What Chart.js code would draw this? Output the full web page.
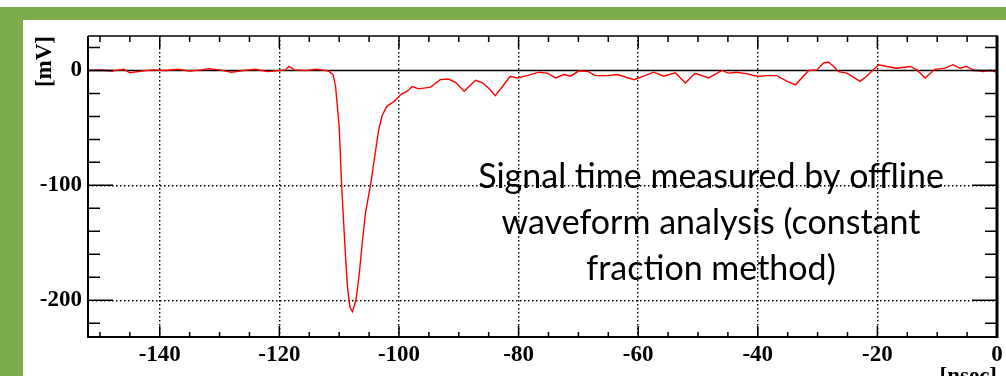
<!DOCTYPE html>
<html>
<head>
<meta charset="utf-8">
<script src="https://cdn.jsdelivr.net/npm/chart.js@4"></script>
<style>
  html, body { margin:0; padding:0; width:1006px; height:376px; overflow:hidden; background:#fff; }
  .band { position:absolute; left:0; top:7px; width:1006px; height:13px; background:#7dab4b; }
  .strip { position:absolute; left:0; top:7px; width:23px; height:369px; background:#7dab4b; z-index:2; }
  .cover { position:absolute; left:23px; top:16px; width:983px; height:4px; background:#7dab4b; z-index:2; }
  #wrap { position:absolute; left:23px; top:16px; }
</style>
</head>
<body>
<div class="band"></div>
<div class="strip"></div>
<div id="wrap"><canvas id="myChart" width="986" height="375"></canvas></div>
<div class="cover"></div>
<script>
// waveform, time in ns and amplitude in mV
let times=[-152,-150,-148,-146,-145,-143,-141,-139,-137,-135,-133,-131.8,-130,-128,-126,-124,-122,-120,-119,-118.4,-117.5,-115.5,-114,-113,-112.2,-111.5,
  -111.0,-110.6,-110.0,-109.6,-109.3,-108.9,-108.6,-108.2,-107.8,-107.2,-106.7,-106.1,-105.6,-104.7,-104.2,-103.4,-102.8,-102.0,-101.1,-100.8,
  -99.7,-98.6,-97.8,-96.7,-94.7,-93.1,-91.7,-90.5,-89.1,-87.2,-86.1,-85.0,-83.9,-82.7,-81.4,-80.2,-78.6,-76.6,-75.2,-73.8,-72.4,-71.3,-69.9,-68.3,
  -67.2,-65.2,-63.5,-60.7,-59.1,-57.4,-55.7,-53.8,-52.1,-50.5,-48.2,-46.0,-44.9,-43.5,-41.8,-40.1,-38.5,-36.8,-35.1,-33.7,-31.5,-30.1,-29.0,-28.2,
  -27.3,-26.5,-25.1,-22.9,-21.8,-19.8,-18.4,-16.8,-14.5,-13.4,-12.0,-10.4,-8.7,-7.3,-6.2,-5.1,-4.0,-2.3,-1.2,0]
let volts=[0,0.5,-0.5,1,-2,-0.5,0.5,0,1,-0.5,0.5,1.5,0.5,-1.5,0,1,-1,0,0.5,3.5,0.5,0,1,0.5,0,-1.5,
  -4,-14,-49,-98,-128,-165,-189,-206,-210,-200,-180,-148,-124,-98,-80,-52,-39,-31,-28,-27,
  -21,-18,-14,-16,-14.5,-8,-7.5,-10.5,-18,-8.5,-10.5,-15.5,-22,-14,-5,-6.5,-4.5,-1.5,-2.3,-6.5,-3.5,-5,-0.3,-1,
  -4.5,-4.5,-3.5,-8,-5,-1.5,-5,-2,-11,-2.5,-6.5,0,-2.3,-1.5,-3,-5,-4.5,-4.5,-9.5,-12.5,0,0.5,6.5,7.3,
  3.5,-1,-2.3,-9.5,-5,5,3.5,2,3.5,0.5,-6.5,1,2,5,2,3.5,0.5,-1,0,-1.5]

let xTicks=[-140,-120,-100,-80,-60,-40,-20,0]
let yTicks=[-200,-100,0]
let noteLines=['Signal time measured by offline','waveform analysis (constant','fraction method)']

const tickFont={family:'Liberation Serif', weight:'bold', size:23}

// frame, inward ticks, zero line and the note
const framePlugin={
  id:'frame',
  beforeDatasetsDraw(chart){
    const c=chart.ctx, a=chart.chartArea
    const y0=chart.scales.y.getPixelForValue(0)
    c.save()
    c.strokeStyle='#000'
    c.lineWidth=1.5
    c.beginPath()
    c.moveTo(a.left,y0)
    c.lineTo(a.right,y0)
    c.stroke()
    c.restore()
  },
  afterDraw(chart){
    const c=chart.ctx, a=chart.chartArea
    const sx=chart.scales.x, sy=chart.scales.y
    c.save()
    c.strokeStyle='#000'
    c.lineWidth=1.5
    c.beginPath()
    for(let v=-150;v<=0;v+=5){
      let px=sx.getPixelForValue(v)
      let len=(v%20===0)?11:5
      c.moveTo(px,a.bottom); c.lineTo(px,a.bottom-len)
      c.moveTo(px,a.top); c.lineTo(px,a.top+len+1)
    }
    for(let v=-220;v<=20;v+=20){
      let py=sy.getPixelForValue(v)
      let len=(v%100===0)?25:12
      c.moveTo(a.left,py); c.lineTo(a.left+len,py)
      c.moveTo(a.right,py); c.lineTo(a.right-len,py)
    }
    c.stroke()
    // box
    c.lineWidth=2
    c.beginPath()
    c.moveTo(a.left,a.top); c.lineTo(a.left,a.bottom); c.lineTo(a.right,a.bottom)
    c.stroke()
    c.lineWidth=1.5
    c.beginPath()
    c.moveTo(a.left,a.top); c.lineTo(a.right,a.top)
    c.stroke()
    c.lineWidth=3
    c.beginPath()
    c.moveTo(a.right,a.top-0.5); c.lineTo(a.right,a.bottom+1)
    c.stroke()
    // note
    c.fillStyle='#000'
    c.font='34px Lato'
    c.textAlign='center'
    c.textBaseline='alphabetic'
    noteLines.forEach((t,i)=>{ c.fillText(t,688,172+i*46) })
    c.restore()
  }
}

new Chart(document.getElementById('myChart'), {
  type:'line',
  data:{
    datasets:[{
      data:times.map((t,i)=>({x:t,y:volts[i]})),
      borderColor:'#ff0000',
      borderWidth:1.4,
      pointRadius:0,
      tension:0,
      fill:false
    }]
  },
  options:{
    responsive:false,
    animation:false,
    layout:{padding:{top:20,right:12,left:0,bottom:0}},
    plugins:{legend:{display:false},tooltip:{enabled:false}},
    scales:{
      x:{
        type:'linear', min:-152, max:0,
        afterBuildTicks:s=>{ s.ticks=xTicks.map(v=>({value:v})) },
        afterFit:s=>{ s.height=54 },
        grid:{ color:ctx=>ctx.tick && ctx.tick.value===0?'rgba(0,0,0,0)':'#000', lineWidth:1.4, drawTicks:false },
        border:{ display:false, dash:[1.5,2.5] },
        ticks:{ font:tickFont, color:'#000', padding:4, maxRotation:0, autoSkip:false },
        title:{ display:true, text:'[nsec]', align:'end', font:tickFont, color:'#000', padding:0 }
      },
      y:{
        min:-232, max:30,
        afterBuildTicks:s=>{ s.ticks=yTicks.map(v=>({value:v})) },
        afterFit:s=>{ s.width=65 },
        grid:{ color:ctx=>ctx.tick && ctx.tick.value===0?'rgba(0,0,0,0)':'#000', lineWidth:1.4, drawTicks:false },
        border:{ display:false, dash:[1.5,2.5] },
        ticks:{ font:tickFont, color:'#000', padding:6 },
        title:{ display:true, text:'[mV]', align:'end', font:tickFont, color:'#000', padding:{top:8,bottom:0} }
      }
    }
  },
  plugins:[framePlugin]
})
</script>
</body>
</html>
